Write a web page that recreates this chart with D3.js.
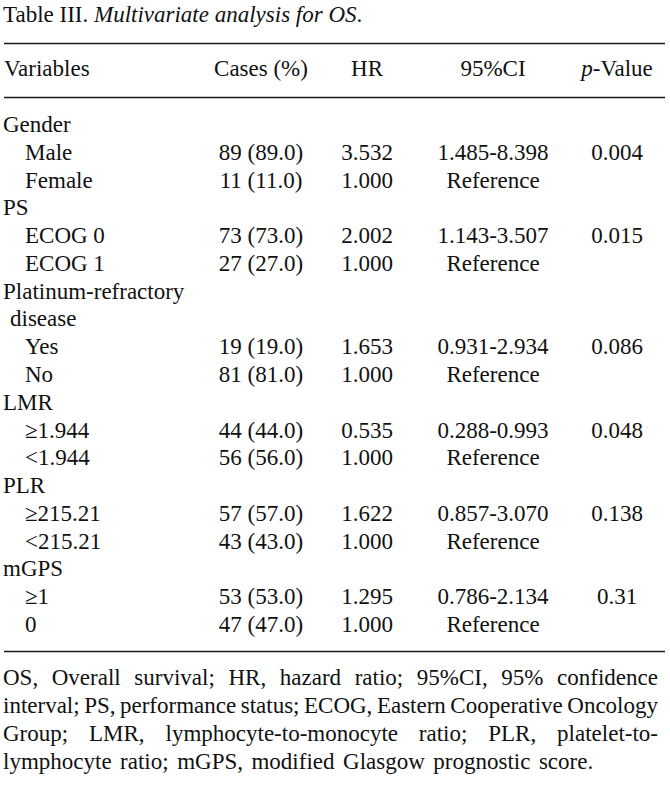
<!DOCTYPE html>
<html>
<head>
<meta charset="utf-8">
<script src="https://cdn.jsdelivr.net/npm/d3@7"></script>
<style>
  html, body { margin: 0; padding: 0; background: #fff; }
  svg { display: block; }
  text { font-family: "Liberation Serif", "Times New Roman", serif; fill: #111; }
</style>
</head>
<body>
<svg id="chart" width="670" height="795"></svg>
<script>
// ---- data ----
const titleLead = "Table III.";
const titleRest = "Multivariate analysis for OS";
const headers = ["Variables", "Cases (%)", "HR", "95%CI", "p-Value"];
const variables = ["Gender", "  Male", "  Female", "PS", "  ECOG 0", "  ECOG 1",
  "Platinum-refractory", " disease", "  Yes", "  No", "LMR", "  ≥1.944", "  <1.944",
  "PLR", "  ≥215.21", "  <215.21", "mGPS", "  ≥1", "  0"];
const cases = ["", "89 (89.0)", "11 (11.0)", "", "73 (73.0)", "27 (27.0)", "", "",
  "19 (19.0)", "81 (81.0)", "", "44 (44.0)", "56 (56.0)", "", "57 (57.0)", "43 (43.0)",
  "", "53 (53.0)", "47 (47.0)"];
const hr = ["", "3.532", "1.000", "", "2.002", "1.000", "", "", "1.653", "1.000", "",
  "0.535", "1.000", "", "1.622", "1.000", "", "1.295", "1.000"];
const ci = ["", "1.485-8.398", "Reference", "", "1.143-3.507", "Reference", "", "",
  "0.931-2.934", "Reference", "", "0.288-0.993", "Reference", "", "0.857-3.070",
  "Reference", "", "0.786-2.134", "Reference"];
const pvals = ["", "0.004", "", "", "0.015", "", "", "", "0.086", "", "", "0.048", "",
  "", "0.138", "", "", "0.31", ""];
const footnoteLines = [
  "OS, Overall survival; HR, hazard ratio; 95%CI, 95% confidence",
  "interval; PS, performance status; ECOG, Eastern Cooperative Oncology",
  "Group; LMR, lymphocyte-to-monocyte ratio; PLR, platelet-to-",
  "lymphocyte ratio; mGPS, modified Glasgow prognostic score."
];

// ---- layout ----
const svg = d3.select("#chart");
const FS = 23;
const FN = 23;
const left = 4, right = 665;
const colX = [left, 261, 367, 493, 617];

// title
const title = svg.append("text").attr("x", 3).attr("y", 22).attr("font-size", FS);
title.append("tspan").text(titleLead + " ");
title.append("tspan").attr("font-style", "italic").text(titleRest);
title.append("tspan").text(".");

// rules
const rule = y => svg.append("line").attr("x1", left).attr("x2", right)
  .attr("y1", y).attr("y2", y).attr("stroke", "#1a1a1a").attr("stroke-width", 1.6);
rule(43.5); rule(97.5); rule(651.5);

// header
const hdr = svg.append("g");
headers.forEach((h, i) => {
  const t = hdr.append("text").attr("x", colX[i]).attr("y", 76).attr("font-size", FS)
    .attr("text-anchor", i === 0 ? "start" : "middle");
  if (h.startsWith("p-")) {
    t.append("tspan").attr("font-style", "italic").text("p");
    t.append("tspan").text(h.slice(1));
  } else t.text(h);
});

// rows
const y = d3.scaleLinear().domain([0, variables.length - 1]).range([132, 632]);
const rows = svg.append("g").selectAll("g").data(variables.map((v, i) => ({
  v, i, c: cases[i], h: hr[i], ci: ci[i], p: pvals[i]
}))).join("g").attr("transform", d => `translate(0,${y(d.i)})`);

rows.append("text").attr("x", d => {
  const lead = d.v.length - d.v.trimStart().length;
  return left + (lead === 2 ? 21 : lead === 1 ? 6 : -1);
}).attr("font-size", FS).text(d => d.v.trim());
rows.append("text").attr("x", colX[1]).attr("text-anchor", "middle").attr("font-size", FS).text(d => d.c);
rows.append("text").attr("x", colX[2]).attr("text-anchor", "middle").attr("font-size", FS).text(d => d.h);
rows.append("text").attr("x", colX[3]).attr("text-anchor", "middle").attr("font-size", FS).text(d => d.ci);
rows.append("text").attr("x", colX[4]).attr("text-anchor", "middle").attr("font-size", FS).text(d => d.p);

// footnote (justified)
const fx0 = 3, fx1 = 658;
const fy = d3.scaleLinear().domain([0, footnoteLines.length - 1]).range([685, 769]);
footnoteLines.forEach((line, li) => {
  const words = line.split(" ");
  const g = svg.append("g");
  const nodes = words.map(w => g.append("text").attr("y", fy(li)).attr("font-size", FN).text(w));
  const widths = nodes.map(n => n.node().getComputedTextLength());
  const total = d3.sum(widths);
  const justify = li < footnoteLines.length - 1;
  const gap = justify ? (fx1 - fx0 - total) / (words.length - 1) : 8.5;
  let x = fx0;
  nodes.forEach((n, k) => { n.attr("x", x); x += widths[k] + gap; });
});
</script>
</body>
</html>
